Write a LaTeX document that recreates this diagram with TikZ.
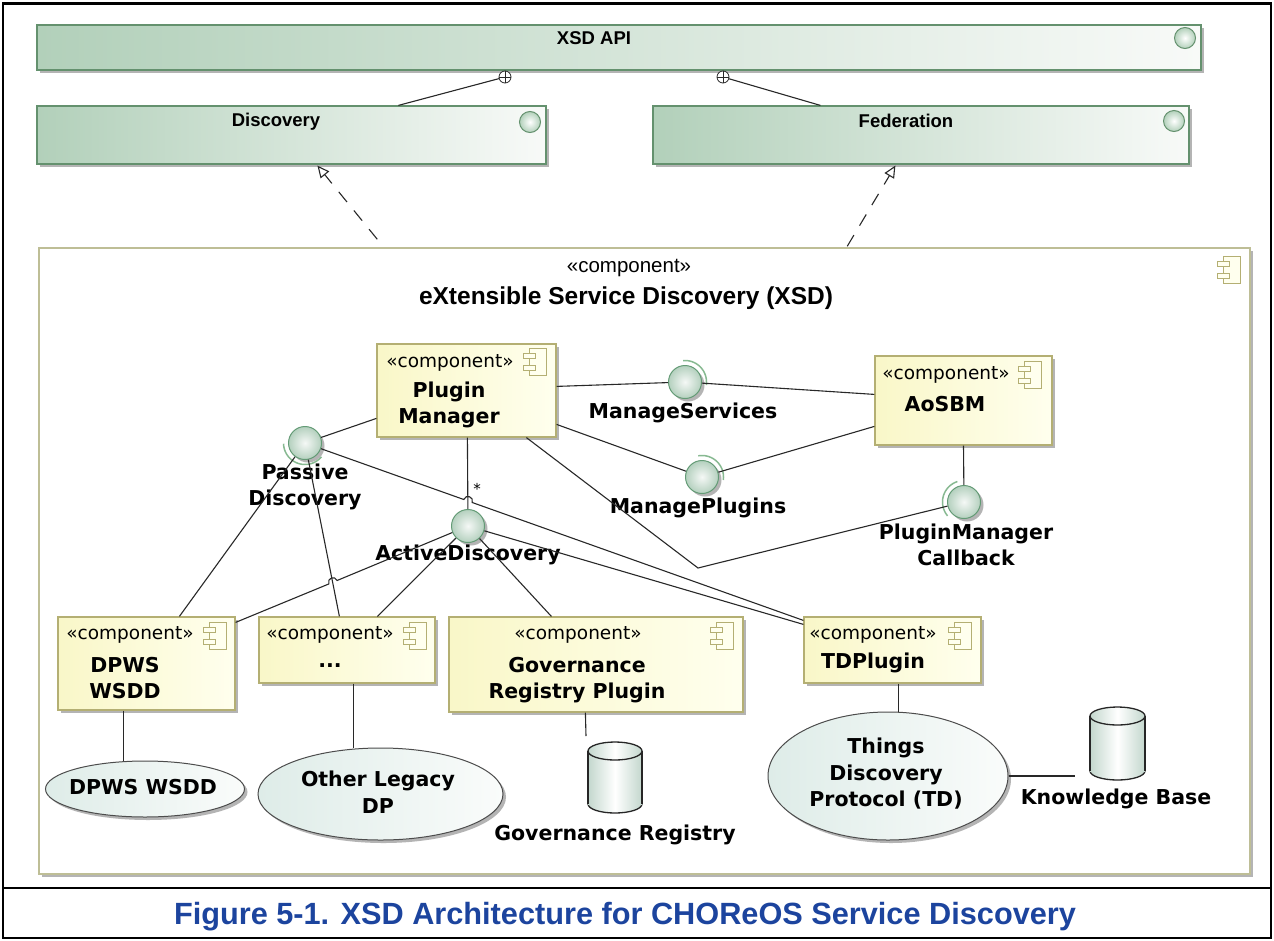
\documentclass[tikz,border=0pt]{standalone}
\usepackage{fontspec}
\setmainfont{Liberation Sans}
\newfontfamily\dv{DejaVu Sans}
\usetikzlibrary{shapes.geometric,arrows.meta,calc,shadows}

\definecolor{lnc}{RGB}{40,40,40}
\definecolor{grL}{RGB}{178,208,186}
\definecolor{grR}{RGB}{248,250,248}
\definecolor{grB}{RGB}{100,145,110}
\definecolor{ylL}{RGB}{249,247,200}
\definecolor{ylR}{RGB}{255,255,238}
\definecolor{ylB}{RGB}{180,175,115}
\definecolor{xsdB}{RGB}{190,190,150}
\definecolor{ballIn}{RGB}{245,248,246}
\definecolor{ballOut}{RGB}{180,208,190}
\definecolor{ballB}{RGB}{100,155,118}
\definecolor{sockC}{RGB}{135,185,145}
\definecolor{elL}{RGB}{222,236,232}
\definecolor{elR}{RGB}{250,252,251}
\definecolor{cyL}{RGB}{195,215,205}
\definecolor{shd}{RGB}{180,180,180}
\definecolor{capblue}{RGB}{28,68,158}

\tikzset{
  shadowed/.style={drop shadow={shadow xshift=3pt,shadow yshift=-3pt,fill=shd,opacity=1}},
  greenbox/.style={draw=grB, line width=1.2pt, left color=grL, right color=grR, shadowed, inner sep=0},
  compbox/.style={draw=ylB, line width=1.2pt, left color=ylL, right color=ylR, shadowed, inner sep=0},
  xsdbox/.style={draw=xsdB, line width=1.5pt, fill=white, shadowed, inner sep=0},
  lolli/.style={circle, draw=ballB, line width=1pt, inner color=ballIn, outer color=ballOut, minimum size=33, inner sep=0, shadowed},
  smallball/.style={circle, draw=grB, line width=1pt, inner color=white, outer color=grL, minimum size=21, inner sep=0},
  nest/.style={circle, draw=lnc, fill=white, line width=0.8pt, minimum size=12, inner sep=0},
  usecase/.style={ellipse, draw=black!70, line width=1pt, left color=elL, right color=elR, shadowed, inner sep=0},
  conn/.style={draw=lnc, line width=1.1pt},
  socket/.style={draw=sockC, line width=1.5pt},
  stereo/.style={font=\dv\fontsize{18.5}{22}\selectfont, inner sep=0},
  blabel/.style={font=\dv\bfseries\fontsize{20.5}{26.5}\selectfont, align=center, inner sep=0},
  toplabel/.style={font=\bfseries\fontsize{18.5}{22}\selectfont, inner sep=0},
  cylside/.style={draw=black!85, line width=1.3pt},
  cylfill/.style={draw=black!85, line width=1.3pt, left color=cyL, right color=cyL, middle color=white},
  compicon/.pic={
    \draw[draw=ylB, fill=ylR, line width=1pt] (-7,-13.5) rectangle (10,13.5);
    \draw[draw=ylB, fill=ylR, line width=1pt] (-13,-8.5) rectangle (-1,-3.5);
    \draw[draw=ylB, fill=ylR, line width=1pt] (-13,3.5) rectangle (-1,8.5);
  }
}

\begin{document}
\begin{tikzpicture}[x=1pt,y=-1pt]
\useasboundingbox (0,0) rectangle (1274,940);
\fill[white] (0,0) rectangle (1274,940);

% ---------- top interface boxes ----------
\node[greenbox, minimum width=1164, minimum height=45] (api) at (619,47.5) {};
\node[greenbox, minimum width=509, minimum height=58] (disc) at (291.5,135) {};
\node[greenbox, minimum width=536, minimum height=58] (fed) at (921,135) {};
\node[toplabel] (apiT) at (594,38) {XSD API};
\node[toplabel] (discT) at (276,122) {Discovery};
\node[toplabel] (fedT) at (906,121) {Federation};
\node[smallball] (apiC) at (1185,38) {};
\node[smallball] (discC) at (530,122) {};
\node[smallball] (fedC) at (1174,121) {};
\node[nest] (n1) at (505,77) {};
\node[nest] (n2) at (723,77) {};
\draw[lnc, line width=0.7pt] (n1.north) -- (n1.south) (n1.west) -- (n1.east);
\draw[lnc, line width=0.7pt] (n2.north) -- (n2.south) (n2.west) -- (n2.east);
\draw[conn] (n1) -- ($(disc.north west)+(362,0)$);
\draw[conn] (n2) -- ($(fed.north west)+(168,0)$);

% ---------- XSD component ----------
\node[xsdbox, minimum width=1211, minimum height=626] (xsd) at (644.5,561) {};
\node[font=\fontsize{20.5}{24}\selectfont, inner sep=0] (xsdS) at (629,268) {«component»};
\node[font=\bfseries\fontsize{24.5}{29}\selectfont, inner sep=0] (xsdT) at (626,298) {eXtensible Service Discovery (XSD)};
\pic at (1230,270) {compicon};

\draw[conn, dash pattern=on 13pt off 11pt, -{Triangle[open,length=12pt,width=11pt]}]
  ($(xsd.north west)+(339,-8)$) -- ($(disc.south west)+(281,1)$);
\draw[conn, dash pattern=on 13pt off 11pt, -{Triangle[open,length=12pt,width=11pt]}]
  ($(xsd.north west)+(809,-1)$) -- ($(fed.south west)+(243,1)$);

% ---------- inner components ----------
\node[compbox, minimum width=179, minimum height=93] (pm) at (466.5,390.5) {};
\node[stereo] (pmS) at (450,363) {«component»};
\node[blabel] (pmT) at (449,405) {Plugin\\Manager};
\pic at (536,362) {compicon};

\node[compbox, minimum width=177, minimum height=89] (aos) at (963.5,400.5) {};
\node[stereo] (aosS) at (946,375) {«component»};
\node[blabel] (aosT) at (945,404) {AoSBM};
\pic at (1031,375) {compicon};

\node[compbox, minimum width=177, minimum height=93] (dpws) at (146.5,663.5) {};
\node[stereo] (dpwsS) at (130,635) {«component»};
\node[blabel] (dpwsT) at (125,678) {DPWS\\WSDD};
\pic at (216,636) {compicon};

\node[compbox, minimum width=176, minimum height=66] (dots) at (347,650) {};
\node[stereo] (dotsS) at (330,635) {«component»};
\node[blabel] (dotsT) at (330,666) {...};
\pic at (416,636) {compicon};

\node[compbox, minimum width=294, minimum height=95] (gov) at (596,664.5) {};
\node[stereo] (govS) at (578,635) {«component»};
\node[blabel] (govT) at (577,680) {Governance\\Registry Plugin};
\pic at (723,636) {compicon};

\node[compbox, minimum width=177, minimum height=66] (tdp) at (892.5,650) {};
\node[stereo] (tdpS) at (873,635) {«component»};
\node[blabel] (tdpT) at (873,663) {TDPlugin};
\pic at (961,636) {compicon};

% ---------- use cases ----------
\node[usecase, minimum width=199, minimum height=56] (dpwsE) at (145,789) {};
\node[blabel] (dpwsET) at (143,787) {DPWS WSDD};
\node[usecase, minimum width=245, minimum height=92] (otherE) at (380.5,794) {};
\node[blabel] (otherET) at (378,792) {Other Legacy\\DP};
\node[usecase, minimum width=240, minimum height=128] (tdE) at (888,776) {};
\node[blabel] (tdET) at (886,774) {Things\\Discovery\\Protocol (TD)};

% ---------- databases ----------
\draw[cylfill] (615,804) ellipse [x radius=27, y radius=9];
\path[left color=cyL, right color=cyL, middle color=white] (588,751) rectangle (642,804);
\draw[cylside] (588,751) -- (588,804) (642,751) -- (642,804);
\draw[cylfill] (615,751) ellipse [x radius=27, y radius=9];
\node[blabel] (govDB) at (615,835) {Governance Registry};

\draw[cylfill] (1117.5,771) ellipse [x radius=27.5, y radius=9];
\path[left color=cyL, right color=cyL, middle color=white] (1090,716) rectangle (1145,771);
\draw[cylside] (1090,716) -- (1090,771) (1145,716) -- (1145,771);
\draw[cylfill] (1117.5,716) ellipse [x radius=27.5, y radius=9];
\node[blabel] (kbDB) at (1116,799) {Knowledge Base};

% ---------- interfaces (lollipops) ----------
\node[lolli] (ms) at (685,382) {};
\node[blabel] (msT) at (683,413) {ManageServices};
\node[lolli] (mp) at (702,477) {};
\node[blabel] (mpT) at (698,508) {ManagePlugins};
\node[lolli] (pd) at (305,443) {};
\node[blabel] (pdT) at (305,487) {Passive\\Discovery};
\node[lolli] (ad) at (468,526) {};
\node[blabel] (adT) at (468,555) {ActiveDiscovery};
\node[lolli] (pmc) at (964,502) {};
\node[blabel] (pmcT) at (966,545) {PluginManager\\Callback};
\node[font=\dv\fontsize{15}{18}\selectfont, inner sep=0] (mult) at (477,489) {*};

% sockets
\draw[socket, shift={(ms.center)}] plot[domain=-95:8, samples=30] ({21.5*cos(\x)},{21.5*sin(\x)});
\draw[socket, shift={(mp.center)}] plot[domain=-100:8, samples=30] ({21.5*cos(\x)},{21.5*sin(\x)});
\draw[socket, shift={(pd.center)}] plot[domain=40:178, samples=30] ({21.5*cos(\x)},{21.5*sin(\x)});
\draw[socket, shift={(pmc.center)}] plot[domain=140:252, samples=30] ({21.5*cos(\x)},{21.5*sin(\x)});

% ---------- anchor coordinates ----------
\coordinate (pmR1) at ($(pm.north east)+(0,43)$);
\coordinate (pmR2) at ($(pm.north east)+(0,81)$);
\coordinate (pmL) at ($(pm.north west)+(0,75)$);
\coordinate (pmB1) at ($(pm.south west)+(91,0)$);
\coordinate (pmB2) at ($(pm.south west)+(150,0)$);
\coordinate (aosL1) at ($(aos.north west)+(0,39)$);
\coordinate (aosL2) at ($(aos.north west)+(0,71)$);
\coordinate (bend) at (698,568);
\coordinate (dpwsTp) at ($(dpws.north west)+(122,0)$);
\coordinate (dpwsR) at ($(dpws.north east)+(0,6)$);
\coordinate (dpwsB) at ($(dpws.south west)+(66,0)$);
\coordinate (dotsT1) at ($(dots.north west)+(81,0)$);
\coordinate (dotsT2) at ($(dots.north west)+(119,0)$);
\coordinate (dotsB) at ($(dots.south west)+(95,0)$);
\coordinate (govTp) at ($(gov.north west)+(103,0)$);
\coordinate (govB) at ($(gov.south west)+(137,0)$);
\coordinate (govDBtop) at (586,736);
\coordinate (tdL1) at ($(tdp.north west)+(0,4)$);
\coordinate (tdL2) at ($(tdp.north west)+(0,8)$);
\coordinate (tdB) at ($(tdp.south west)+(95,0)$);
\coordinate (kbL) at (1075,776);
% hops
\coordinate (h1a) at (463.76,499.49);
\coordinate (h1c1) at (465.77,493.84);
\coordinate (h1c2) at (474.25,496.86);
\coordinate (h1b) at (472.24,502.51);
\coordinate (h2a) at (328.85,583.93);
\coordinate (h2c1) at (326.54,578.39);
\coordinate (h2c2) at (334.84,574.93);
\coordinate (h2b) at (337.15,580.47);

% ---------- connectors ----------
\draw[conn] (pmR1) -- (ms);
\draw[conn] (ms) -- (aosL1);
\draw[conn] (pmR2) -- (mp);
\draw[conn] (mp) -- (aosL2);
\draw[conn] (pmL) -- (pd);
\draw[conn] (pmB1) -- (ad);
\draw[conn] (pmB2) -- (bend) -- (pmc);
\draw[conn] (aos.south) -- (pmc);

\draw[conn] (pd) -- (dpwsTp);
\draw[conn] (pd) -- (dotsT1);
\draw[conn] (pd) -- (h1a) .. controls (h1c1) and (h1c2) .. (h1b) -- (tdL1);

\draw[conn] (dpwsR) -- (h2a) .. controls (h2c1) and (h2c2) .. (h2b) -- (ad);
\draw[conn] (ad) -- (dotsT2);
\draw[conn] (ad) -- (govTp);
\draw[conn] (ad) -- (tdL2);

\draw[conn] (dpwsB) -- (dpwsB |- dpwsE.north);
\draw[conn] (dotsB) -- (dotsB |- otherE.north);
\draw[conn] (govB) -- (govDBtop);
\draw[conn] (tdB) -- (tdB |- tdE.north);
\draw[conn] (tdE.east) -- (kbL);

% ---------- frame and caption ----------
\draw[line width=2.5pt] (3,3.5) rectangle (1271,938);
\draw[line width=2.5pt] (3,888) -- (1271,888);
\node[font=\bfseries\fontsize{30.7}{36}\selectfont, text=capblue, inner sep=0] (cap) at (625,917)
  {Figure 5-1. XSD Architecture for CHOReOS Service Discovery};
\end{tikzpicture}
\end{document}
